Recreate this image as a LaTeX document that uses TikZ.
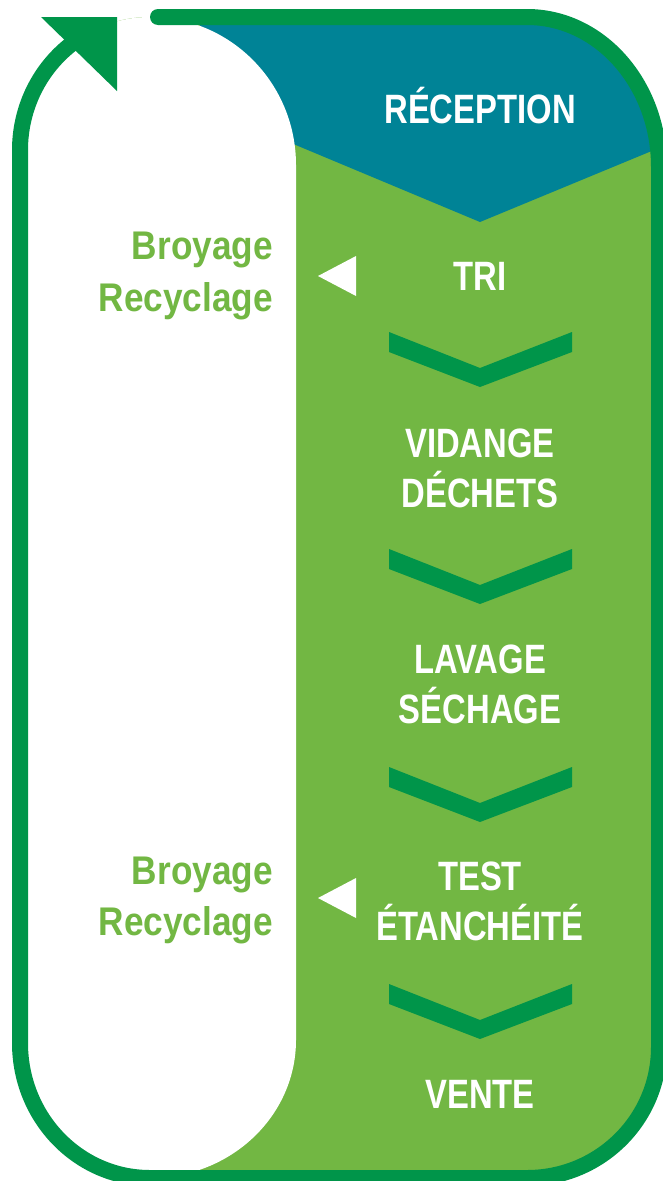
\documentclass[tikz,border=0pt]{standalone}
\usepackage{fontspec}
\newfontfamily\cond{Liberation Sans}[FakeStretch=0.8]
\newfontfamily\condside{Liberation Sans}[FakeStretch=0.88]
\definecolor{dkgreen}{HTML}{00954A}
\definecolor{ltgreen}{HTML}{72B743}
\definecolor{tealc}{HTML}{008396}
\begin{document}
\begin{tikzpicture}[x=1pt,y=-1pt,
  steptext/.style={text=white,font=\cond\bfseries\fontsize{41}{50}\selectfont,anchor=base,inner sep=0pt},
  sidetext/.style={text=ltgreen,font=\condside\bfseries\fontsize{40}{52}\selectfont,anchor=base east,inner sep=0pt},
  chev/.style={fill=dkgreen},
  pointer/.style={fill=white},
  ring/.style={draw=dkgreen,line width=16pt}]
\useasboundingbox (0,0) rectangle (663,1181);
% background areas
\begin{scope}
\clip (150,17) -- (527,17) arc[start angle=270,end angle=360,x radius=132,y radius=150]
  -- (659,1047) arc[start angle=0,end angle=90,x radius=132,y radius=131]
  -- (150,1178) arc[start angle=90,end angle=180,x radius=130,y radius=135]
  -- (20,150) arc[start angle=180,end angle=270,x radius=130,y radius=133] -- cycle;
\fill[ltgreen] (0,0) rectangle (663,1181);
\fill[tealc] (200,0) -- (700,0) -- (700,131) -- (480,222) -- (200,105) -- cycle;
\fill[white] (0,17) -- (150,17) arc[start angle=270,end angle=360,x radius=146,y radius=148]
  -- (296,1040) arc[start angle=0,end angle=90,x radius=146,y radius=138]
  -- (0,1178) -- cycle;
\end{scope}
% outer ring with arrow
\draw[ring] (158,17) -- (527,17) arc[start angle=270,end angle=360,x radius=132,y radius=150]
  -- (659,1047) arc[start angle=0,end angle=90,x radius=132,y radius=131]
  -- (150,1178) arc[start angle=90,end angle=180,x radius=130,y radius=135]
  -- (20,150) arc[start angle=180,end angle=234,x radius=130,y radius=133];
\fill[dkgreen] (41,17) -- (117,17) -- (117,91) -- cycle;
\fill[dkgreen] (158,9) arc[start angle=270,end angle=90,radius=8] -- cycle;
% chevrons
\foreach \y in {332,549,767,984}{
  \fill[chev] (389,\y) -- (480,\y+36) -- (572,\y) -- (572,\y+20) -- (480,\y+55) -- (389,\y+20) -- cycle;
}
% white pointers
\fill[pointer] (318,276) -- (356,256) -- (356,296) -- cycle;
\fill[pointer] (318,898) -- (356,878) -- (356,918) -- cycle;
% step labels
\node[steptext] (recep) at (480,123) {RÉCEPTION};
\node[steptext] (tri) at (480,290) {TRI};
\node[steptext] (vid1) at (480,457) {VIDANGE};
\node[steptext] (vid2) at (480,507) {DÉCHETS};
\node[steptext] (lav1) at (480,673) {LAVAGE};
\node[steptext] (lav2) at (480,723) {SÉCHAGE};
\node[steptext] (test1) at (480,890) {TEST};
\node[steptext] (test2) at (480,940) {ÉTANCHÉITÉ};
\node[steptext] (vente) at (480,1108) {VENTE};
% side labels
\node[sidetext] (br1) at (273,259) {Broyage};
\node[sidetext] (rc1) at (273,311) {Recyclage};
\node[sidetext] (br2) at (273,884) {Broyage};
\node[sidetext] (rc2) at (273,935) {Recyclage};
\end{tikzpicture}
\end{document}
